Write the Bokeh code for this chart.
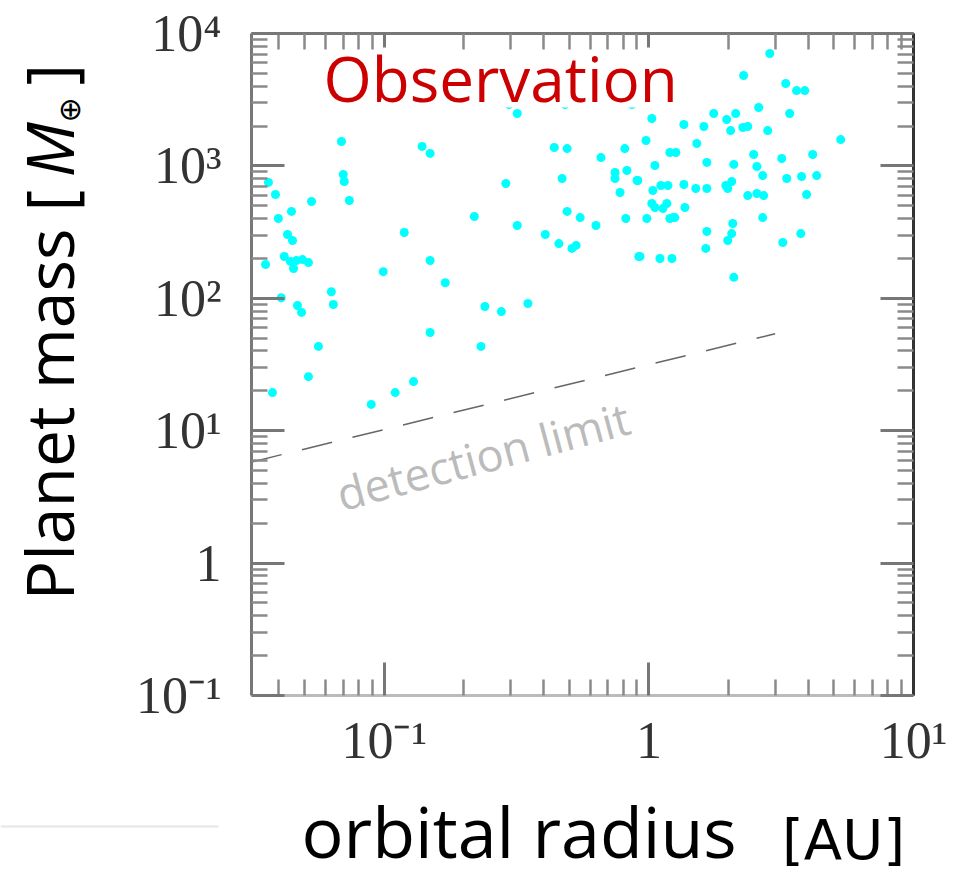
import math
from bokeh.plotting import figure
from bokeh.layouts import column, row
from bokeh.models import (Label, BoxAnnotation, LogAxis, FixedTicker, Range1d,
                          ColumnDataSource)
from bokeh.embed import file_html
from bokeh.resources import INLINE

# ---------------- data ----------------
orbital_radius_au = [
    0.0365, 0.0388, 0.0446, 0.0531, 0.0700, 0.0706, 0.0738, 0.0398, 0.0431, 0.0450,
    0.0419, 0.0442, 0.0466, 0.0491, 0.0517, 0.0454, 0.0356, 0.119, 0.149, 0.0991,
    0.170, 0.0631, 0.0408, 0.0470, 0.0487, 0.0642, 0.149, 0.0564, 0.0517, 0.129,
    0.110, 0.0893, 0.0378, 0.0689, 0.139, 0.149, 0.232, 0.240, 0.277, 0.349,
    0.219, 0.288, 0.318, 0.406, 0.457, 0.512, 0.531, 0.491, 0.550, 0.631,
    0.470, 0.318, 0.439, 0.491, 0.659, 0.811, 0.745, 0.826, 0.902, 0.778,
    0.818, 0.916, 0.745, 2.864, 2.280, 3.289, 3.614, 3.882, 1.026, 1.356,
    1.614, 1.758, 1.968, 2.128, 2.037, 2.265, 2.364, 2.600, 2.812, 3.404,
    5.309, 0.975, 1.517, 1.200, 1.265, 1.054, 1.656, 2.094, 2.489, 2.559,
    2.692, 3.177, 4.159, 0.908, 1.035, 1.110, 1.180, 1.356, 1.504, 1.656,
    1.954, 2.056, 1.986, 3.319, 3.776, 4.305, 2.364, 2.559, 2.716, 3.945,
    1.026, 1.054, 1.169, 1.130, 1.368, 1.233, 0.982, 1.200, 1.253, 2.692,
    1.656, 2.075, 2.056, 1.986, 1.641, 3.206, 3.750, 0.925, 1.101, 1.222,
    2.094, 0.296, 0.482, 0.863,
]
planet_mass_earth = [
    750, 608, 453, 538, 861, 762, 548, 401, 303, 273,
    207, 190, 193, 196, 186, 168, 180, 314, 193, 159,
    131, 112, 101, 88.3, 78.2, 89.8, 55.2, 43.3, 25.6, 23.5,
    19.4, 15.8, 19.4, 1528, 1403, 1242, 43.3, 86.7, 79.4, 91.4,
    415, 736, 355, 303, 259, 238, 251, 453, 407, 355,
    803, 2489, 1377, 1352, 1156, 1352, 891, 923, 776, 630,
    401, 207, 803, 7063, 4819, 4188, 3707, 3707, 2280, 2056,
    1986, 2489, 2239, 2489, 1849, 1950, 1986, 2761, 1849, 2489,
    1581, 1556, 1476, 1262, 1262, 1007, 1062, 1026, 1219, 989,
    845, 1138, 1219, 776, 652, 711, 711, 724, 675, 675,
    711, 762, 675, 803, 832, 845, 597, 619, 597, 608,
    520, 485, 520, 476, 485, 407, 401, 401, 407, 407,
    320, 367, 308, 273, 238, 264, 308, 207, 200, 200,
    144, 2909, 2909, 2909,
]

detection_limit_x = [0.0315, 3.0]
detection_limit_y = [5.8, 54.0]

x_tick_values = [0.1, 1, 10]
x_tick_labels = ["10\u207b\u00b9", "1", "10\u00b9"]
y_tick_values = [0.1, 1, 10, 100, 1000, 10000]
y_tick_labels = ["10\u207b\u00b9", "1", "10\u00b9", "10\u00b2", "10\u00b3", "10\u2074"]

x_minor = [m * 10.0 ** e for e in range(-2, 1) for m in range(2, 10)]
y_minor = [m * 10.0 ** e for e in range(-1, 4) for m in range(2, 10)]

y_title_parts = ["Planet mass [", "M", "\u2295", "]"]
x_title_parts = ["orbital radius", "[AU]"]

MAIN_H = 777
MAIN_BOTTOM = 82

# ---------------- main figure ----------------
p = figure(width=856, height=MAIN_H, x_axis_type="log", y_axis_type="log",
           x_range=Range1d(0.0315, 10), y_range=Range1d(0.1, 10000),
           output_backend="svg", toolbar_location=None,
           min_border_left=151, min_border_right=43,
           min_border_top=33, min_border_bottom=MAIN_BOTTOM)
p.xgrid.visible = False
p.ygrid.visible = False
p.outline_line_color = None
p.background_fill_color = "white"
p.border_fill_color = "white"


def style_axis(ax, ticks, minors, labels, line_color, major_in, show_labels):
    ax.ticker = FixedTicker(ticks=ticks, minor_ticks=minors)
    ax.axis_line_color = line_color
    ax.axis_line_width = 3
    ax.major_tick_in = major_in
    ax.major_tick_out = 0
    ax.minor_tick_in = 16
    ax.minor_tick_out = 0
    ax.major_tick_line_color = "#777777"
    ax.major_tick_line_width = 3
    ax.minor_tick_line_color = "#8a8a8a"
    ax.minor_tick_line_width = 2.5
    if show_labels:
        ax.major_label_overrides = {v: t for v, t in zip(ticks, labels)}
        ax.major_label_text_font = "Liberation Serif"
        ax.major_label_text_font_size = "52px"
        ax.major_label_text_color = "#333333"
    else:
        ax.major_label_overrides = {v: "" for v in ticks}
        ax.major_label_text_font_size = "0px"


xb = p.xaxis[0]
yl = p.yaxis[0]
style_axis(xb, x_tick_values, x_minor, x_tick_labels, "#bbbbbb", 33, True)
style_axis(yl, y_tick_values, y_minor, y_tick_labels, "#777777", 33, True)
xb.major_label_standoff = 16
yl.major_label_standoff = 30

xt = LogAxis()
style_axis(xt, x_tick_values, x_minor, x_tick_labels, "#777777", 14, False)
p.add_layout(xt, "above")
yr = LogAxis()
style_axis(yr, y_tick_values, y_minor, y_tick_labels, "#333333", 33, False)
p.add_layout(yr, "right")

src = ColumnDataSource(data=dict(x=orbital_radius_au, y=planet_mass_earth))
p.scatter(x="x", y="y", source=src, size=9, fill_color="#00ffff",
          line_color=None)
p.line(detection_limit_x, detection_limit_y, line_dash="31 21",
       line_color="#666666", line_width=1.5)

# white box behind the title text
p.add_layout(BoxAnnotation(left=0.058, right=1.45, bottom=2760, top=6300,
                           fill_color="white", fill_alpha=1.0,
                           line_alpha=0))

p.add_layout(Label(x=72, y=618, x_units="screen", y_units="screen",
                   text="Observation", text_font="Open Sans",
                   text_font_size="62px", text_color="#cc0000",
                   text_align="left", text_baseline="alphabetic"))

p.add_layout(Label(x=86, y=201, x_units="screen", y_units="screen",
                   text="detection limit", text_font="Open Sans",
                   text_font_size="45px", text_color="#bbbbbb",
                   angle=math.radians(15), text_align="left",
                   text_baseline="alphabetic"))


# ---------------- helper figures for axis titles ----------------
def blank_fig(w, h, top=0, bottom=0):
    f = figure(width=w, height=h, x_range=Range1d(0, w), y_range=Range1d(0, h),
               output_backend="svg", toolbar_location=None,
               x_axis_location=None, y_axis_location=None,
               min_border_left=0, min_border_right=0,
               min_border_top=top, min_border_bottom=bottom)
    f.xgrid.visible = False
    f.ygrid.visible = False
    f.outline_line_color = None
    f.background_fill_color = "white"
    f.border_fill_color = "white"
    return f


def add_text(f, x, y, text, font, size, angle=0.0, style="normal",
             align="left"):
    f.add_layout(Label(x=x, y=y, x_units="screen", y_units="screen",
                       text=text, text_font=font, text_font_size=size,
                       text_font_style=style, text_color="black",
                       angle=angle, text_align=align,
                       text_baseline="alphabetic"))


# left strip: frame spans the same rows as the main plot frame
left = blank_fig(100, MAIN_H, top=33, bottom=MAIN_BOTTOM)
rot = math.pi / 2
add_text(left, 47, 95, y_title_parts[0], "Open Sans", "66px", rot)
add_text(left, 47, 518, y_title_parts[1], "Open Sans", "66px", rot, "italic")
add_text(left, 69, 573, y_title_parts[2], "DejaVu Sans", "30px", rot)
add_text(left, 47, 610, y_title_parts[3], "Open Sans", "66px", rot)

bottom = blank_fig(956, 877 - MAIN_H)
add_text(bottom, 301, 47, x_title_parts[0], "Open Sans", "70px")
add_text(bottom, 843, 38, x_title_parts[1], "DejaVu Sans", "56px",
         align="center")
bottom.line(x=[0, 218], y=[51, 51], line_color="#e6e6e6", line_width=2)

layout = column(row(left, p, spacing=0), bottom, spacing=0)

open("out.html", "w").write(file_html(layout, INLINE))
